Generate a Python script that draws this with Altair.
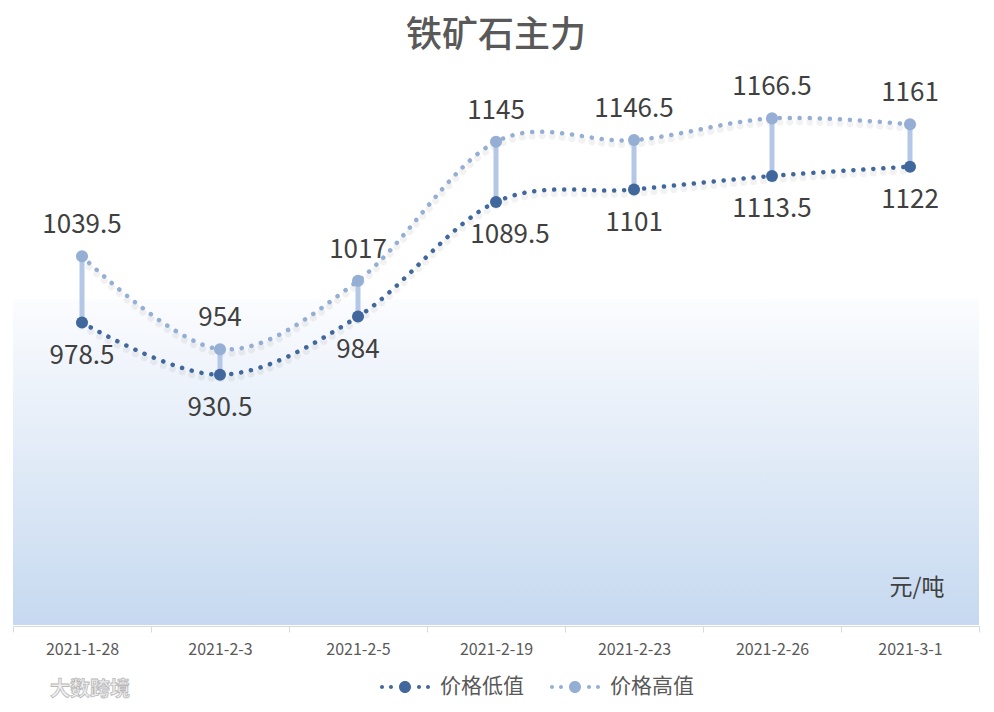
import altair as alt
import pandas as pd

dates = ["2021-1-28", "2021-2-3", "2021-2-5", "2021-2-19", "2021-2-23", "2021-2-26", "2021-3-1"]
low_vals = [978.5, 930.5, 984, 1089.5, 1101, 1113.5, 1122]
high_vals = [1039.5, 954, 1017, 1145, 1146.5, 1166.5, 1161]
series_names = ["价格低值", "价格高值"]
series_colors = ["#41689c", "#95aed4"]

W, H = 966, 543
FONT = "Noto Sans CJK SC"

wide = pd.DataFrame({"date": dates, "low": low_vals, "high": high_vals})
long = pd.concat([
    pd.DataFrame({"date": dates, "value": low_vals, "series": series_names[0]}),
    pd.DataFrame({"date": dates, "value": high_vals, "series": series_names[1]}),
])

xscale = alt.Scale(type="band", domain=dates, paddingInner=0, paddingOuter=0)
yscale = alt.Scale(domain=[700, 1200], nice=False, zero=False)
xaxis = alt.Axis(title=None, labelFontSize=16, labelColor="#595959", labelFont=FONT,
                 domainColor="#d9d9d9", tickColor="#d9d9d9", tickSize=6, tickBand="extent",
                 labelPadding=9, labelAngle=0, grid=False, offset=1)
X = alt.X("date:N", scale=xscale, axis=xaxis, sort=None)
color = alt.Color("series:N", scale=alt.Scale(domain=series_names, range=series_colors),
                  legend=alt.Legend(title=None, orient="none", direction="horizontal",
                                    legendX=367, legendY=580,
                                    symbolType="M-1,0a0.08,0.08 0 1,0 0.16,0a0.08,0.08 0 1,0 -0.16,0"
                                               "M-0.64,0a0.08,0.08 0 1,0 0.16,0a0.08,0.08 0 1,0 -0.16,0"
                                               "M-0.24,0a0.24,0.24 0 1,0 0.48,0a0.24,0.24 0 1,0 -0.48,0"
                                               "M0.48,0a0.08,0.08 0 1,0 0.16,0a0.08,0.08 0 1,0 -0.16,0"
                                               "M0.84,0a0.08,0.08 0 1,0 0.16,0a0.08,0.08 0 1,0 -0.16,0",
                                    symbolSize=2500, symbolStrokeWidth=0, symbolOpacity=1,
                                    labelFontSize=21, labelColor="#595959", labelFont=FONT,
                                    labelOffset=10, columnPadding=26, padding=0))

bg = alt.Chart(alt.Data(values=[{"top": 1000, "bottom": 700}])).mark_rect(
    color=alt.LinearGradient(gradient="linear", x1=0, x2=0, y1=0, y2=1,
                             stops=[alt.GradientStop(color="#fbfcfe", offset=0),
                                    alt.GradientStop(color="#c6d9f0", offset=1)])
).encode(x=alt.value(0), x2=alt.value(W), y=alt.Y("top:Q", scale=yscale, axis=None), y2="bottom:Q")

base = alt.Chart(long)

shadow = base.transform_calculate(sv="datum.value - 3.7").mark_line(
    interpolate="cardinal", tension=0, strokeWidth=7, strokeCap="round",
    strokeDash=[0.1, 9.9], color="#000000", opacity=0.05).encode(
    x=X, y=alt.Y("sv:Q", scale=yscale, axis=None), detail="series:N")

lines = base.mark_line(interpolate="cardinal", tension=0, strokeWidth=4.5, strokeCap="round",
                       strokeDash=[0.1, 9.9]).encode(
    x=X, y=alt.Y("value:Q", scale=yscale, axis=None), color=color)

rules = alt.Chart(wide).mark_rule(color="#b4c7e7", strokeWidth=5).encode(
    x=X, y=alt.Y("low:Q", scale=yscale, axis=None), y2="high:Q")

points = base.mark_point(filled=True, size=145, opacity=1).encode(
    x=X, y=alt.Y("value:Q", scale=yscale, axis=None), color=color)

lbl = dict(fontSize=26, color="#404040", font=FONT, baseline="middle", align="center")
high_lbl = alt.Chart(wide).mark_text(dy=-31, **lbl).encode(
    x=X, y=alt.Y("high:Q", scale=yscale, axis=None), text="high:Q")
low_lbl = alt.Chart(wide).transform_filter(alt.datum.date != "2021-2-19").mark_text(dy=33, **lbl).encode(
    x=X, y=alt.Y("low:Q", scale=yscale, axis=None), text="low:Q")
low_lbl2 = alt.Chart(wide).transform_filter(alt.datum.date == "2021-2-19").mark_text(dy=33, dx=14, **lbl).encode(
    x=X, y=alt.Y("low:Q", scale=yscale, axis=None), text="low:Q")

unit = alt.Chart(alt.Data(values=[{"t": "元/吨"}])).mark_text(
    fontSize=23, color="#404040", font=FONT, align="center", baseline="middle").encode(
    x=alt.value(904), y=alt.value(506), text="t:N")

wm = alt.Chart(alt.Data(values=[{"t": "大数跨境"}])).mark_text(
    fontSize=20, fill="#f0f0f0", stroke="#b8b8b8", strokeWidth=0.8, font=FONT,
    align="center", baseline="middle", fontWeight="bold").encode(
    x=alt.value(77), y=alt.value(608), text="t:N")

chart = alt.layer(bg, shadow, lines, rules, points, high_lbl, low_lbl, low_lbl2, unit, wm).properties(
    width=W, height=H,
    autosize=alt.AutoSizeParams(type="none"),
    padding={"left": 5, "top": 74, "right": 5, "bottom": 79},
    title=alt.TitleParams("铁矿石主力", fontSize=36, font=FONT, fontWeight=500, color="#595959",
                          anchor="middle", offset=19),
).configure_view(stroke=None)

chart.save("out.html", embed_options={"renderer": "svg", "actions": False})
